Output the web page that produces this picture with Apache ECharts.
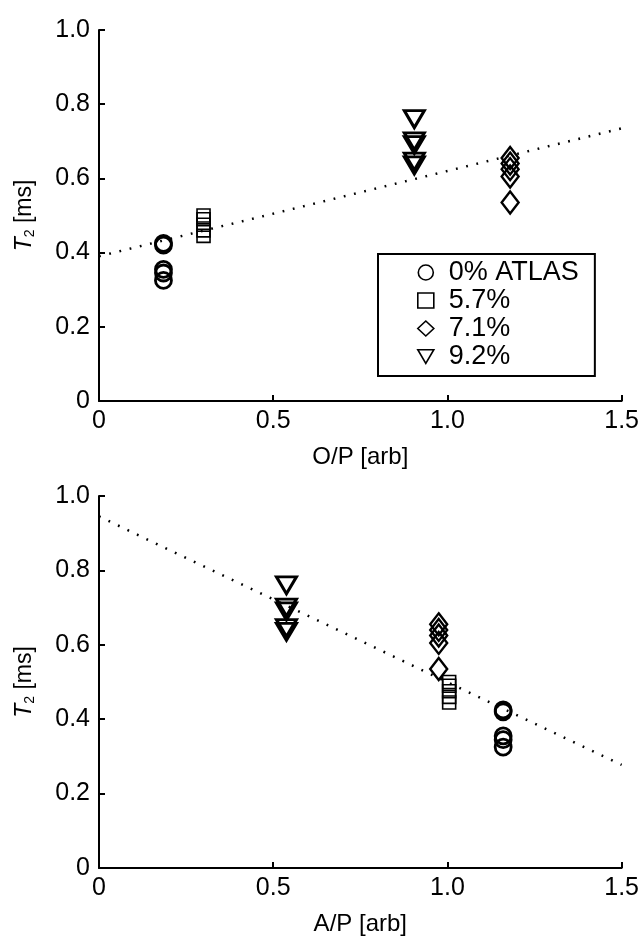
<!DOCTYPE html>
<html><head><meta charset="utf-8">
<script src="https://cdn.jsdelivr.net/npm/echarts@6/dist/echarts.min.js"></script>
<style>html,body{margin:0;padding:0;background:#fff}#c{width:642px;height:937px}</style>
</head><body><div id="c"></div>
<script>
// ---- data ----
const groupNames = ['0% ATLAS', '5.7%', '7.1%', '9.2%'];
// T2 values [ms] for each group (same samples in both panels)
const t2Circle   = [0.425, 0.42, 0.355, 0.345, 0.325];
const t2Square   = [0.50, 0.49, 0.475, 0.46, 0.445];
const t2Diamond  = [0.655, 0.64, 0.625, 0.605, 0.535];
const t2Triangle = [0.76, 0.70, 0.69, 0.645, 0.635];
// O/P ratio of each group
const opCircle   = [0.185, 0.185, 0.185, 0.185, 0.185];
const opSquare   = [0.30, 0.30, 0.30, 0.30, 0.30];
const opDiamond  = [1.18, 1.18, 1.18, 1.18, 1.18];
const opTriangle = [0.905, 0.905, 0.905, 0.905, 0.905];
// A/P ratio of each group
const apCircle   = [1.16, 1.16, 1.16, 1.16, 1.16];
const apSquare   = [1.005, 1.005, 1.005, 1.005, 1.005];
const apDiamond  = [0.975, 0.975, 0.975, 0.975, 0.975];
const apTriangle = [0.538, 0.538, 0.538, 0.538, 0.538];
// linear fits
const fitX   = [0, 1.5];
const opFitY = [0.39, 0.735];
const apFitY = [0.945, 0.277];
// tick labels
const xTickLabels = ['0', '0.5', '1.0', '1.5'];
const yTickLabels = ['0', '0.2', '0.4', '0.6', '0.8', '1.0'];

// ---- chart ----
const F = 'Liberation Sans, Arial, sans-serif';
const triDown = 'path://M0,0 L20,0 L10,17 Z';
const symbols = [
  {symbol: 'circle', size: 16, bw: 2.8},
  {symbol: 'rect', size: 13, bw: 1.6},
  {symbol: 'diamond', size: [17, 22], bw: 2.4},
  {symbol: triDown, size: [20, 17], bw: 3}
];
const zip = (xs, ys) => xs.map((x, i) => [x, ys[i]]);

function xAxisCfg(gi, name) {
  return {
    type: 'value', gridIndex: gi, min: 0, max: 1.5, interval: 0.5,
    name: name, nameLocation: 'middle', nameGap: 44,
    nameTextStyle: {fontSize: 24, color: '#000', fontFamily: F},
    axisLine: {onZero: false, lineStyle: {color: '#000', width: 2}},
    axisTick: {inside: true, length: 6, lineStyle: {color: '#000', width: 2}},
    axisLabel: {fontSize: 25, color: '#000', fontFamily: F, margin: 8,
      formatter: v => xTickLabels[Math.round(v / 0.5)]},
    splitLine: {show: false}
  };
}
function yAxisCfg(gi) {
  return {
    type: 'value', gridIndex: gi, min: 0, max: 1.0, interval: 0.2,
    name: '{i|T}{s|2} [ms]', nameLocation: 'middle', nameGap: 62,
    nameTextStyle: {fontSize: 23, color: '#000', fontFamily: F,
      rich: {
        i: {fontSize: 23, fontStyle: 'italic', color: '#000', fontFamily: F},
        s: {fontSize: 14, color: '#000', fontFamily: F, padding: [10, 0, 0, 0]}
      }},
    axisLine: {onZero: false, lineStyle: {color: '#000', width: 2}},
    axisTick: {inside: true, length: 6, lineStyle: {color: '#000', width: 2}},
    axisLabel: {fontSize: 25, color: '#000', fontFamily: F, margin: 9,
      formatter: v => yTickLabels[Math.round(v / 0.2)]},
    splitLine: {show: false}
  };
}

const topX = [opCircle, opSquare, opDiamond, opTriangle];
const botX = [apCircle, apSquare, apDiamond, apTriangle];
const t2s = [t2Circle, t2Square, t2Diamond, t2Triangle];

const series = [];
series.push({type: 'line', xAxisIndex: 0, yAxisIndex: 0, data: zip(fitX, opFitY),
  symbol: 'none', silent: true, z: 1,
  lineStyle: {color: '#000', width: 2.5, type: [1.8, 8.7]}});
series.push({type: 'line', xAxisIndex: 1, yAxisIndex: 1, data: zip(fitX, apFitY),
  symbol: 'none', silent: true, z: 1,
  lineStyle: {color: '#000', width: 2.5, type: [1.8, 8.7]}});
[0, 1].forEach(p => {
  groupNames.forEach((g, k) => {
    series.push({
      type: 'scatter', name: g, xAxisIndex: p, yAxisIndex: p,
      data: zip(p === 0 ? topX[k] : botX[k], t2s[k]),
      symbol: symbols[k].symbol, symbolSize: symbols[k].size, z: 3,
      itemStyle: {color: 'rgba(0,0,0,0)', borderColor: '#000', borderWidth: symbols[k].bw, opacity: 1}
    });
  });
});

const option = {
  backgroundColor: '#fff',
  animation: false,
  grid: [
    {left: 99, top: 30, width: 523, height: 371},
    {left: 99, top: 496, width: 523, height: 373}
  ],
  xAxis: [xAxisCfg(0, 'O/P [arb]'), xAxisCfg(1, 'A/P [arb]')],
  yAxis: [yAxisCfg(0), yAxisCfg(1)],
  legend: {
    orient: 'vertical', left: 378, top: 254,
    padding: [5, 16, 6, 39], itemGap: 1, itemWidth: 16, itemHeight: 15,
    borderColor: '#000', borderWidth: 2, borderRadius: 0,
    selectedMode: false,
    textStyle: {fontSize: 27, lineHeight: 24, color: '#000', fontFamily: F, padding: [0, 0, 0, 10]},
    data: [
      {name: groupNames[0], icon: 'circle'},
      {name: groupNames[1], icon: 'rect'},
      {name: groupNames[2], icon: 'diamond'},
      {name: groupNames[3], icon: triDown}
    ],
    itemStyle: {color: 'rgba(0,0,0,0)', borderColor: '#000', borderWidth: 1.6}
  },
  series: series
};
const chart = echarts.init(document.getElementById('c'));
chart.setOption(option);
</script>
</body></html>
